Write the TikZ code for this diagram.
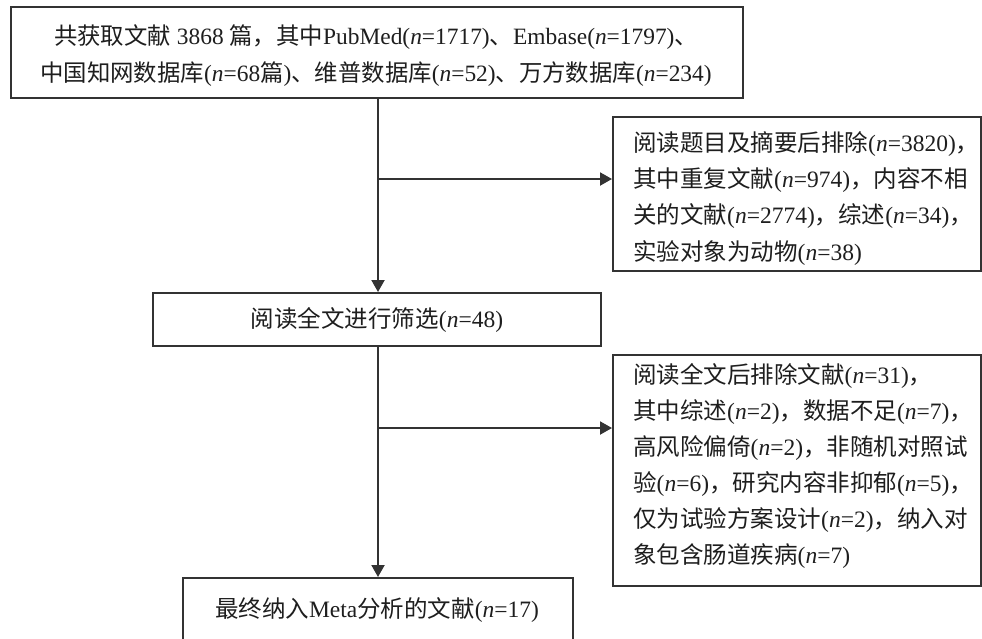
\documentclass[tikz,border=0pt]{standalone}
\usepackage{fontspec}
\setmainfont{Liberation Serif}
\newfontfamily\cjk{Noto Sans CJK SC}
\newcommand\zh[1]{{\cjk #1}}
\newcommand\nn{\textit{n}}
\usetikzlibrary{arrows.meta}
\definecolor{ink}{HTML}{1E1E1E}
\definecolor{rule}{HTML}{333333}
\begin{document}
\begin{tikzpicture}[x=1pt,y=-1pt,
  box/.style={draw=rule,line width=2pt,inner sep=0pt,anchor=north west},
  txt/.style={text=ink,inner sep=0pt},
  arr/.style={draw=rule,line width=2pt,-{Triangle[length=12pt,width=13pt]}}]
\useasboundingbox (0,0) rectangle (982,638);
\clip (0,0) rectangle (982,638);
\fill[white] (0,0) rectangle (982,638);

% boxes
\node[box,minimum width=732pt,minimum height=91pt] (top) at (10,6) {};
\node[box,minimum width=368pt,minimum height=154pt] (r1) at (612,116) {};
\node[box,minimum width=448pt,minimum height=53pt] (mid) at (152,292) {};
\node[box,minimum width=368pt,minimum height=231pt] (r2) at (612,354) {};
\node[box,minimum width=390pt,minimum height=90pt] (fin) at (182,577) {};

% texts
\node[txt,align=center,font=\fontsize{23.4}{37}\selectfont] (topt) at (376,56)
  {\zh{共获取文献} 3868 \zh{篇，其中}PubMed(\nn=1717)\zh{、}Embase(\nn=1797)\zh{、}\\
  \zh{中国知网数据库}(\nn=68\zh{篇})\zh{、维普数据库}(\nn=52)\zh{、万方数据库}(\nn=234)};

\node[txt,anchor=north west,align=left,font=\fontsize{23.5}{36.3}\selectfont]
  (r1t) at (633,131) {\zh{阅读题目及摘要后排除}(\nn=3820)\zh{，}\\
  \zh{其中重复文献}(\nn=974)\zh{，内容不相}\\
  \zh{关的文献}(\nn=2774)\zh{，综述}(\nn=34)\zh{，}\\
  \zh{实验对象为动物}(\nn=38)};

\node[txt,font=\fontsize{23.5}{30}\selectfont] (midt) at (mid.center)
  {\zh{阅读全文进行筛选}(\nn=48)};

\node[txt,anchor=north west,align=left,font=\fontsize{23.5}{36}\selectfont]
  (r2t) at (633,363) {\zh{阅读全文后排除文献}(\nn=31)\zh{，}\\
  \zh{其中综述}(\nn=2)\zh{，数据不足}(\nn=7)\zh{，}\\
  \zh{高风险偏倚}(\nn=2)\zh{，非随机对照试}\\
  \zh{验}(\nn=6)\zh{，研究内容非抑郁}(\nn=5)\zh{，}\\
  \zh{仅为试验方案设计}(\nn=2)\zh{，纳入对}\\
  \zh{象包含肠道疾病}(\nn=7)};

\node[txt,font=\fontsize{23.5}{30}\selectfont] (fint) at (377,610)
  {\zh{最终纳入}Meta\zh{分析的文献}(\nn=17)};

% connectors
\coordinate (j1) at (378,179);
\coordinate (j2) at (378,428);
\draw[arr] (j1 |- top.south) -- (j1 |- mid.north);
\draw[arr] (j1) -- (j1 -| r1.west);
\draw[arr] (j2 |- mid.south) -- (j2 |- fin.north);
\draw[arr] (j2) -- (j2 -| r2.west);
\end{tikzpicture}
\end{document}
